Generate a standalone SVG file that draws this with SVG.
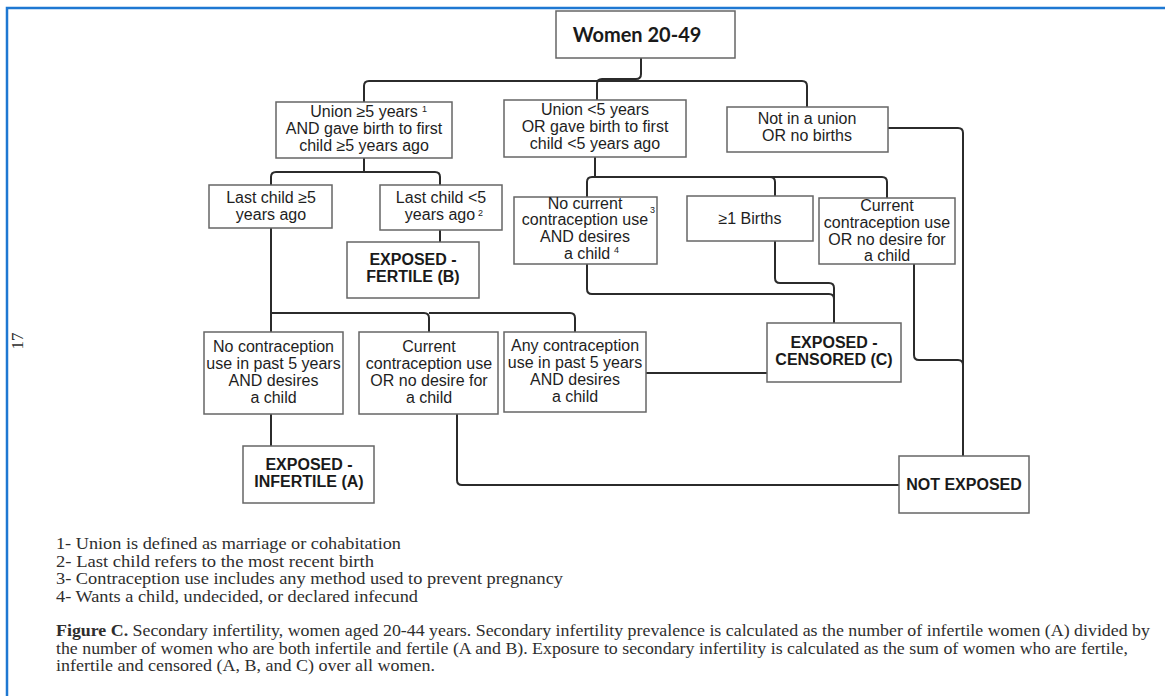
<svg xmlns="http://www.w3.org/2000/svg" width="1165" height="696" viewBox="0 0 1165 696">
<style>
.box{fill:#ffffff;stroke:#666;stroke-width:1.5}
.t{font-family:"Liberation Sans",Arial,sans-serif;font-size:16px;fill:#1e1e1e;text-anchor:middle}
.b{font-family:"Liberation Sans",Arial,sans-serif;font-size:16px;font-weight:bold;fill:#1a1a1a;text-anchor:middle}
.sup{font-family:"Liberation Sans",Arial,sans-serif;font-size:9px;fill:#222}
.c{fill:none;stroke:#2b2b2b;stroke-width:2}
.fn{font-family:"Liberation Serif","Times New Roman",serif;font-size:17px;fill:#2e2e2e}
</style>
<rect x="0" y="0" width="1165" height="696" fill="#ffffff"/>
<path d="M7,696 V8 H1165" fill="none" stroke="#1e78d2" stroke-width="2.5"/>
<text x="18" y="346" class="fn" font-size="14" text-anchor="middle" transform="rotate(-90 18 341)">17</text>

<g id="connectors" class="c">
<path d="M641,58 V74 Q641,79 636,79 H602 Q597,79 597,84 V100"/>
<path d="M364,102 V86 Q364,81 369,81 H802 Q807,81 807,86 V107"/>
<path d="M364,158 V172"/>
<path d="M271,185 V177 Q271,172 276,172 H435 Q440,172 440,177 V185"/>
<path d="M595,157 V177"/>
<path d="M587,197 V182 Q587,177 592,177 H882 Q887,177 887,182 V198"/>
<path d="M770,177 Q775,177 775,182 V196"/>
<path d="M440,230 V242"/>
<path d="M271,228 V332"/>
<path d="M271,313 H424 Q429,313 429,318 V332"/>
<path d="M429,313 H570 Q575,313 575,318 V332"/>
<path d="M271,414 V446"/>
<path d="M457,414 V480 Q457,485 462,485 H899"/>
<path d="M646,373 H767"/>
<path d="M587,264 V289 Q587,294 592,294 H829 Q834,294 834,299 V323"/>
<path d="M775,241 V278 Q775,283 780,283 H829 Q834,283 834,288 V300"/>
<path d="M888,128 H958 Q963,128 963,133 V456"/>
<path d="M914,264 V355 Q914,360 919,360 H958 Q963,360 963,365"/>
</g>

<g id="women">
<rect class="box" x="556" y="11" width="179" height="47"/>
<text x="637" y="42" font-family="Lato,'Liberation Sans',sans-serif" font-size="20" font-weight="bold" fill="#1a1a1a" text-anchor="middle">Women 20-49</text>
</g>

<g id="union-ge5">
<rect class="box" x="276" y="102" width="176" height="56"/>
<text class="t" x="364" y="117">Union ≥5 years</text>
<text class="sup" x="422" y="112">1</text>
<text class="t" x="364" y="134">AND gave birth to first</text>
<text class="t" x="364" y="151">child ≥5 years ago</text>
</g>

<g id="union-lt5">
<rect class="box" x="504" y="100" width="182" height="57"/>
<text class="t" x="595" y="115">Union &lt;5 years</text>
<text class="t" x="595" y="132">OR gave birth to first</text>
<text class="t" x="595" y="149">child &lt;5 years ago</text>
</g>

<g id="not-union">
<rect class="box" x="727" y="107" width="161" height="45"/>
<text class="t" x="807" y="124">Not in a union</text>
<text class="t" x="807" y="141">OR no births</text>
</g>

<g id="last-ge5">
<rect class="box" x="209" y="185" width="123" height="43"/>
<text class="t" x="271" y="203">Last child ≥5</text>
<text class="t" x="271" y="220">years ago</text>
</g>

<g id="last-lt5">
<rect class="box" x="380" y="185" width="122" height="45"/>
<text class="t" x="441" y="203">Last child &lt;5</text>
<text class="t" x="440" y="220">years ago</text>
<text class="sup" x="478" y="216">2</text>
</g>

<g id="fertile">
<rect class="box" x="347" y="242" width="132" height="56"/>
<text class="b" x="413" y="265">EXPOSED -</text>
<text class="b" x="413" y="282">FERTILE (B)</text>
</g>

<g id="no-current">
<rect class="box" x="514" y="197" width="143" height="67"/>
<text class="t" x="585" y="209">No current</text>
<text class="t" x="585" y="225">contraception use</text>
<text class="sup" x="650" y="213">3</text>
<text class="t" x="585" y="242">AND desires</text>
<text class="t" x="587" y="259">a child</text>
<text class="sup" x="614" y="253">4</text>
</g>

<g id="births">
<rect class="box" x="687" y="196" width="126" height="45"/>
<text class="t" x="750" y="224">≥1 Births</text>
</g>

<g id="current-top">
<rect class="box" x="819" y="198" width="136" height="66"/>
<text class="t" x="887" y="211">Current</text>
<text class="t" x="887" y="228">contraception use</text>
<text class="t" x="887" y="245">OR no desire for</text>
<text class="t" x="887" y="261">a child</text>
</g>

<g id="no-contra">
<rect class="box" x="204" y="332" width="139" height="82"/>
<text class="t" x="273.5" y="352">No contraception</text>
<text class="t" x="273.5" y="369">use in past 5 years</text>
<text class="t" x="273.5" y="386">AND desires</text>
<text class="t" x="273.5" y="403">a child</text>
</g>

<g id="current-bottom">
<rect class="box" x="359" y="332" width="139" height="82"/>
<text class="t" x="429" y="352">Current</text>
<text class="t" x="429" y="369">contraception use</text>
<text class="t" x="429" y="386">OR no desire for</text>
<text class="t" x="429" y="403">a child</text>
</g>

<g id="any-contra">
<rect class="box" x="504" y="332" width="142" height="80"/>
<text class="t" x="575" y="351">Any contraception</text>
<text class="t" x="575" y="368">use in past 5 years</text>
<text class="t" x="575" y="385">AND desires</text>
<text class="t" x="575" y="402">a child</text>
</g>

<g id="censored">
<rect class="box" x="767" y="323" width="134" height="59"/>
<text class="b" x="834" y="348">EXPOSED -</text>
<text class="b" x="834" y="365">CENSORED (C)</text>
</g>

<g id="infertile">
<rect class="box" x="243" y="446" width="131" height="57"/>
<text class="b" x="309" y="470">EXPOSED -</text>
<text class="b" x="309" y="487">INFERTILE (A)</text>
</g>

<g id="not-exposed">
<rect class="box" x="899" y="456" width="130" height="57"/>
<text class="b" x="964" y="490">NOT EXPOSED</text>
</g>

<g id="notes">
<text class="fn" x="56" y="549" textLength="345" lengthAdjust="spacingAndGlyphs">1- Union is defined as marriage or cohabitation</text>
<text class="fn" x="56" y="567" textLength="318" lengthAdjust="spacingAndGlyphs">2- Last child refers to the most recent birth</text>
<text class="fn" x="56" y="584" textLength="507" lengthAdjust="spacingAndGlyphs">3- Contraception use includes any method used to prevent pregnancy</text>
<text class="fn" x="56" y="602" textLength="362" lengthAdjust="spacingAndGlyphs">4- Wants a child, undecided, or declared infecund</text>
<text class="fn" x="56" y="636" textLength="1094" lengthAdjust="spacingAndGlyphs"><tspan font-weight="bold">Figure C.</tspan>  Secondary infertility, women aged 20-44 years. Secondary infertility prevalence is calculated as the number of infertile women (A) divided by</text>
<text class="fn" x="56" y="654" textLength="1072" lengthAdjust="spacingAndGlyphs">the number of women who are both infertile and fertile (A and B). Exposure to secondary infertility is calculated as the sum of women who are fertile,</text>
<text class="fn" x="56" y="671" textLength="379" lengthAdjust="spacingAndGlyphs">infertile and censored (A, B, and C) over all women.</text>
</g>
</svg>
